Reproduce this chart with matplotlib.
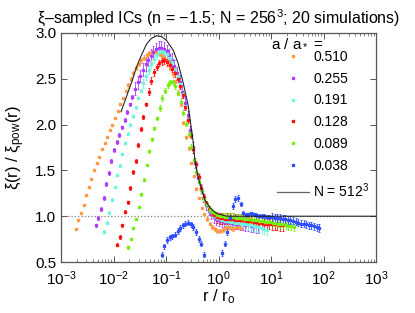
import numpy as np
import matplotlib
matplotlib.use("Agg")
import matplotlib.pyplot as plt
from matplotlib.lines import Line2D
from matplotlib.ticker import LogLocator, FixedLocator, FormatStrFormatter

plt.rcParams['font.family'] = ['Liberation Sans', 'DejaVu Sans']
plt.rcParams['mathtext.fontset'] = 'custom'
plt.rcParams['mathtext.rm'] = 'Liberation Sans'
plt.rcParams['mathtext.it'] = 'Liberation Sans:italic'
plt.rcParams['mathtext.bf'] = 'Liberation Sans:bold'

# ---------------- data ----------------
labels = ["0.510", "0.255", "0.191", "0.128", "0.089", "0.038"]
colors = ["#FF9A45", "#AE3CFF", "#70F5DE", "#FF1010", "#77EE10", "#2F4EFF"]

# log10(r/r0) of first bin, bin width (dex) for each series
logr_start = [-2.72, -2.34, -2.18, -1.93, -1.72, -1.08]
logr_step = 0.05

y_0510 = [0.86, 0.96, 1.03, 1.12, 1.23, 1.32, 1.41, 1.50, 1.58, 1.65,
          1.73, 1.80, 1.86, 1.94, 2.00, 2.07, 2.15, 2.22, 2.29, 2.37,
          2.43, 2.50, 2.56, 2.62, 2.66, 2.70, 2.73, 2.76, 2.78, 2.79,
          2.79, 2.78, 2.77, 2.75, 2.72, 2.68, 2.62, 2.55, 2.46, 2.35,
          2.22, 2.02, 1.86, 1.74, 1.58, 1.44, 1.30, 1.20, 1.09, 1.02,
          0.97, 0.92, 0.88, 0.86, 0.84, 0.84, 0.85, 0.87, 0.88, 0.87,
          0.86, 0.88, 0.88, 0.87]
y_0255 = [0.90, 0.98, 1.08, 1.20, 1.35, 1.47, 1.60, 1.72, 1.81, 1.89,
          1.97, 2.05, 2.14, 2.22, 2.30, 2.39, 2.46, 2.53, 2.60, 2.66,
          2.71, 2.75, 2.79, 2.82, 2.84, 2.84, 2.83, 2.80, 2.76, 2.71,
          2.64, 2.56, 2.47, 2.36, 2.24, 2.10, 1.94, 1.76, 1.58, 1.42,
          1.30, 1.20, 1.12, 1.06, 1.02, 0.99, 0.97, 0.96, 0.95, 0.94,
          0.94, 0.93, 0.93, 0.92, 0.92, 0.91, 0.91, 0.90, 0.90, 0.89,
          0.89, 0.88, 0.88]
y_0191 = [0.83, 0.93, 1.04, 1.18, 1.32, 1.45, 1.55, 1.68, 1.80, 1.90,
          2.00, 2.09, 2.19, 2.29, 2.37, 2.45, 2.53, 2.60, 2.66, 2.72,
          2.76, 2.79, 2.80, 2.79, 2.77, 2.73, 2.68, 2.61, 2.53, 2.44,
          2.33, 2.20, 2.06, 1.90, 1.73, 1.56, 1.42, 1.30, 1.20, 1.13,
          1.07, 1.03, 1.00, 0.98, 0.97, 0.96, 0.95, 0.95, 0.94, 0.94,
          0.93, 0.93, 0.92, 0.92, 0.91, 0.90, 0.90, 0.89, 0.88, 0.88,
          0.87, 0.86, 0.85]
y_0128 = [0.69, 0.77, 0.90, 1.05, 1.15, 1.31, 1.48, 1.60, 1.78, 1.95,
          2.08, 2.22, 2.36, 2.48, 2.57, 2.63, 2.67, 2.69, 2.70, 2.68,
          2.65, 2.61, 2.56, 2.50, 2.42, 2.32, 2.19, 2.05, 1.89, 1.73,
          1.57, 1.43, 1.31, 1.21, 1.14, 1.08, 1.04, 1.01, 0.99, 0.98,
          0.98, 0.97, 0.97, 0.97, 0.97, 0.96, 0.96, 0.96, 0.96, 0.95,
          0.95, 0.95, 0.94, 0.94, 0.93, 0.93, 0.92, 0.92, 0.92, 0.91,
          0.91, 0.91, 0.90, 0.90]
y_0089 = [0.66, 0.75, 0.87, 0.97, 1.10, 1.24, 1.40, 1.56, 1.71, 1.84,
          1.96, 2.07, 2.18, 2.29, 2.37, 2.43, 2.46, 2.46, 2.42, 2.35,
          2.25, 2.13, 2.01, 1.90, 1.76, 1.61, 1.48, 1.37, 1.27, 1.19,
          1.13, 1.08, 1.05, 1.03, 1.01, 1.00, 1.00, 0.99, 0.99, 0.99,
          0.99, 0.98, 0.98, 0.98, 0.97, 0.97, 0.97, 0.96, 0.96, 0.96,
          0.95, 0.95, 0.94, 0.94, 0.94, 0.93, 0.93, 0.92, 0.91, 0.91,
          0.90, 0.89, 0.89, 0.88]
y_0038 = [0.58, 0.67, 0.74, 0.77, 0.78, 0.80, 0.84, 0.87, 0.90, 0.92,
          0.93, 0.91, 0.88, 0.83, 0.75, 0.70, 0.58, 0.45, 0.35, 0.30,
          0.30, 0.35, 0.45, 0.60, 0.70, 0.83, 0.98, 1.11, 1.19, 1.20,
          1.13, 1.04, 1.01, 1.02, 1.03, 1.02, 1.01, 1.00, 1.00, 1.00,
          0.99, 0.99, 0.99, 0.98, 0.98, 0.98, 0.97, 0.97, 0.96, 0.96,
          0.95, 0.94, 0.93, 0.92, 0.92, 0.91, 0.90, 0.90, 0.89, 0.88,
          0.87]
series_y = [y_0510, y_0255, y_0191, y_0128, y_0089, y_0038]

# error bar half-heights read by region (rise / peak / fall / plateau)
e_0510 = [0.008] * 20 + [0.025] * 20 + [0.015] * 10 + [0.02] * 14
e_0255 = [0.02] * 15 + [0.07] * 20 + [0.05] * 10 + [0.065] * 18
e_0191 = [0.015] * 15 + [0.045] * 20 + [0.035] * 8 + [0.05] * 20
e_0128 = [0.02] * 12 + [0.035] * 18 + [0.03] * 8 + [0.06] * 26
e_0089 = [0.015] * 12 + [0.03] * 16 + [0.025] * 8 + [0.04] * 28
e_0038 = [0.03] * 16 + [0.03] * 14 + [0.02] * 12 + [0.04] * 19
series_err = [e_0510, e_0255, e_0191, e_0128, e_0089, e_0038]

# N = 512^3 reference curve
r_512 = [0.0139, 0.0178, 0.0224, 0.0275, 0.0347, 0.0427, 0.0525, 0.066,
         0.083, 0.102, 0.138, 0.170, 0.214, 0.266, 0.331, 0.355, 0.407,
         0.479, 0.550, 0.692, 0.912, 1.45, 3.0, 10.0, 100.0, 1000.0]
y_512 = [2.14, 2.31, 2.47, 2.63, 2.77, 2.88, 2.94, 2.97, 2.96, 2.92,
         2.81, 2.67, 2.45, 2.20, 1.80, 1.61, 1.43, 1.29, 1.18, 1.09,
         1.03, 1.00, 1.00, 1.00, 1.00, 1.00]

title = "ξ–sampled ICs (n = −1.5; N = 256$^3$; 20 simulations)"

# ---------------- figure ----------------
fig = plt.figure(figsize=(4.15, 3.13), dpi=100)
ax = fig.add_axes([61/415, 1-262/313, (376-61)/415, (262-33)/313])

ax.axhline(1.0, color='#808080', ls=':', lw=0.9, zorder=1)

for c, ys, s0, e in zip(colors, series_y, logr_start, series_err):
    r = 10 ** (s0 + logr_step * np.arange(len(ys)))
    ax.errorbar(r, ys, yerr=e[:len(ys)], fmt='s', ms=1.5, mfc=c, mec=c,
                ecolor=c, elinewidth=0.6, capsize=1.0, capthick=0.6,
                zorder=2)

ax.plot(r_512, y_512, color='#1a1a1a', lw=0.75, zorder=4)

ax.set_xscale('log')
ax.set_xlim(1e-3, 1e3)
ax.set_ylim(0.5, 3.0)
ax.xaxis.set_major_locator(LogLocator(base=10, numticks=10))
ax.xaxis.set_minor_locator(LogLocator(base=10, subs=np.arange(2, 10), numticks=20))
ax.yaxis.set_major_locator(FixedLocator([0.5, 1.0, 1.5, 2.0, 2.5, 3.0]))
ax.yaxis.set_major_formatter(FormatStrFormatter('%.1f'))

spine_c = '#555555'
for s in ax.spines.values():
    s.set_color(spine_c)
    s.set_linewidth(0.9)
ax.tick_params(which='both', direction='in', top=True, right=True,
               color=spine_c, labelsize=11)
ax.tick_params(which='major', length=4, width=0.7)
ax.tick_params(which='minor', length=2, width=0.5)
ax.tick_params(axis='x', pad=5)

ax.set_title(title, fontsize=11.5, pad=7)
ax.set_xlabel("r / r$_\\mathrm{o}$", fontsize=12, labelpad=0)
ax.set_ylabel("ξ(r) / ξ$_\\mathrm{pow}$(r)", fontsize=12)
ax.yaxis.set_label_coords(-0.108, 0.5)

handles = [Line2D([], [], ls='none', marker='s', ms=1.5, color=c) for c in colors]
handles.append(Line2D([], [], color='#666666', lw=0.9))
leg_labels = labels + ["N = 512$^3$"]
ax.legend(handles, leg_labels, loc='upper left',
          bbox_to_anchor=(0.655, 0.97), frameon=False, fontsize=10,
          handlelength=2.3, handletextpad=0.3, labelspacing=0.57,
          borderpad=0.2)
ax.text(0.667, 0.956, "a / a$_*$ =", transform=ax.transAxes, fontsize=11,
        ha='left', va='center')

fig.savefig("out.png", dpi=100)
